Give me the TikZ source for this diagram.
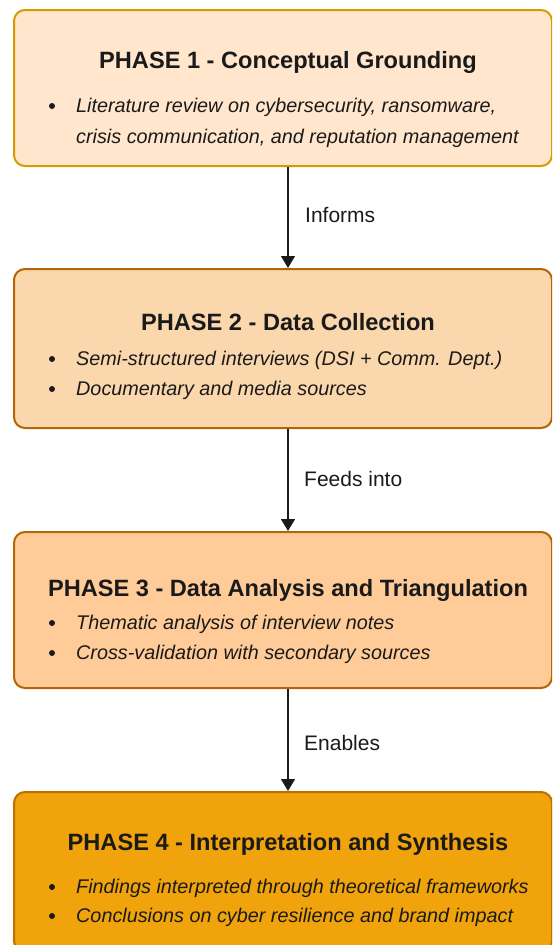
\documentclass[tikz,border=0pt]{standalone}
\usepackage{fontspec}
\setmainfont{Liberation Sans}
\usetikzlibrary{arrows.meta}

\definecolor{fillA}{HTML}{FFE6CC}
\definecolor{lineA}{HTML}{D79B00}
\definecolor{fillB}{HTML}{FAD7AC}
\definecolor{lineB}{HTML}{B46504}
\definecolor{fillC}{HTML}{FFCC99}
\definecolor{lineC}{HTML}{B46504}
\definecolor{fillD}{HTML}{F0A30A}
\definecolor{lineD}{HTML}{BD7000}
\definecolor{ink}{HTML}{1A1A1A}

\tikzset{
  phase/.style={draw, line width=2pt, rounded corners=11pt, anchor=north west,
    minimum width=538pt, minimum height=#1, inner sep=0pt},
  phasetitle/.style={font=\fontsize{23.6}{27}\selectfont\bfseries, text=ink,
    inner sep=0pt, anchor=base},
  item/.style={font=\fontsize{19.8}{23}\selectfont\itshape, text=ink,
    anchor=base west, inner sep=0pt},
  dot/.style={fill=ink},
  flow/.style={draw=ink, line width=1.4pt, -{Triangle[length=12pt,width=14pt]}},
  flowlabel/.style={font=\fontsize{21}{25}\selectfont, text=ink,
    anchor=base west, inner sep=0pt}
}

\begin{document}
\begin{tikzpicture}[x=1pt, y=-1pt]
  \clip (0,0) rectangle (552,945);
  \fill[white] (0,0) rectangle (552,945);

  % phase boxes
  \node[phase=156pt, fill=fillA, draw=lineA] (b1) at (13,9) {};
  \node[phase=159pt, fill=fillB, draw=lineB] (b2) at (13,268) {};
  \node[phase=156pt, fill=fillC, draw=lineC] (b3) at (13,531) {};
  \node[phase=160pt, fill=fillD, draw=lineD] (b4) at (13,791) {};

  % phase 1 (text placed by baseline)
  \node[phasetitle] (t1) at (288,68) {PHASE 1 - Conceptual Grounding};
  \fill[dot] (52,106) circle (3);
  \node[item] (i1a) at (76,112.5) {Literature review on cybersecurity, ransomware,};
  \node[item] (i1b) at (76,143.5) {crisis communication, and reputation management};

  % phase 2
  \node[phasetitle] (t2) at (288,330) {PHASE 2 - Data Collection};
  \fill[dot] (52,359) circle (3);
  \node[item] (i2a) at (76,365.5) {Semi-structured interviews (DSI + Comm. Dept.)};
  \fill[dot] (52,389) circle (3);
  \node[item] (i2b) at (76,395.5) {Documentary and media sources};

  % phase 3
  \node[phasetitle] (t3) at (288,596) {PHASE 3 - Data Analysis and Triangulation};
  \fill[dot] (52,623) circle (3);
  \node[item] (i3a) at (76,629.5) {Thematic analysis of interview notes};
  \fill[dot] (52,653) circle (3);
  \node[item] (i3b) at (76,659.5) {Cross-validation with secondary sources};

  % phase 4
  \node[phasetitle] (t4) at (288,850) {PHASE 4 - Interpretation and Synthesis};
  \fill[dot] (52,887) circle (3);
  \node[item] (i4a) at (76,893.5) {Findings interpreted through theoretical frameworks};
  \fill[dot] (52,916) circle (3);
  \node[item] (i4b) at (76,922.5) {Conclusions on cyber resilience and brand impact};

  % connectors
  \draw[flow] (b1.south -| t1) -- (b2.north -| t1);
  \draw[flow] (b2.south -| t2) -- (b3.north -| t2);
  \draw[flow] (b3.south -| t3) -- (b4.north -| t3);

  \node[flowlabel] (l1) at (305,222) {Informs};
  \node[flowlabel] (l2) at (304,486) {Feeds into};
  \node[flowlabel] (l3) at (304,750) {Enables};
\end{tikzpicture}
\end{document}
